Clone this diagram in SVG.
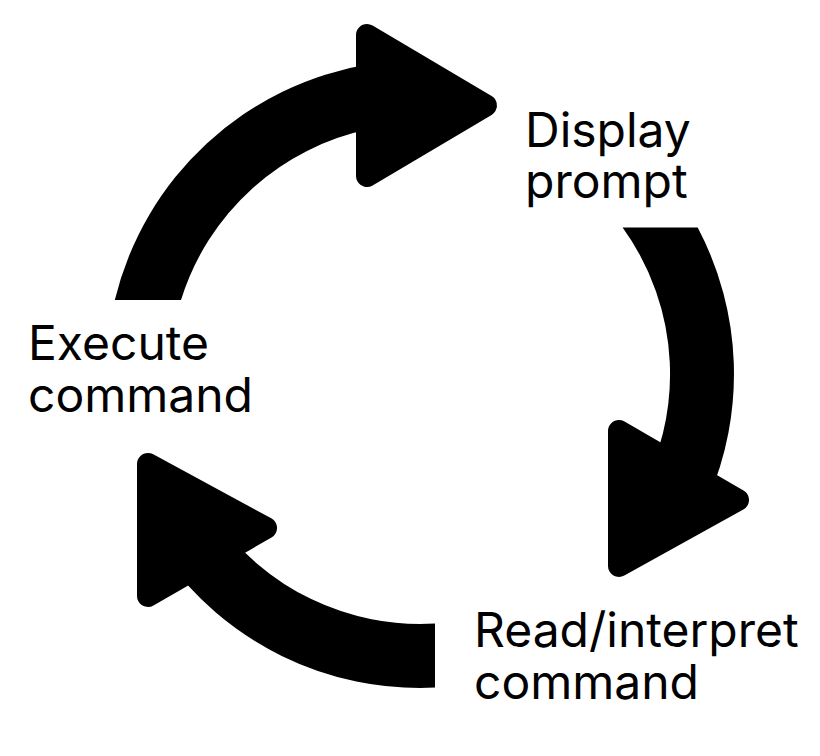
<svg xmlns="http://www.w3.org/2000/svg" width="820" height="756" viewBox="0 0 820 756">
<style>
.arc{fill:#000;}
.head{fill:#000;stroke:#000;stroke-width:22;stroke-linejoin:round;}
.lbl{font-family:Inter,"Liberation Sans",sans-serif;font-size:48px;fill:#000;}
</style>
<rect width="820" height="756" fill="#fff"/>
<g id="connectors">
<g id="arrow-execute-display">
<path class="arc" d="M 114.8 300 A 314 314 0 0 1 370 64 L 370 129.1 A 250 250 0 0 0 181 300 Z"/>
<polygon class="head" points="367,35 486,105.5 367,176"/>
</g>
<g id="arrow-display-read">
<path class="arc" d="M 697.7 227.5 A 314 314 0 0 1 707.6 500 L 636 500 A 250 250 0 0 0 622.6 227.5 Z"/>
<polygon class="head" points="619,431 738,500 619,566"/>
</g>
<g id="arrow-read-execute">
<path class="arc" d="M 435 687.6 A 314 314 0 0 1 162.8 554.1 L 215.2 517.4 A 250 250 0 0 0 435 623.5 Z"/>
<polygon class="head" points="148,464 266,528 148,596"/>
</g>
</g>
<g id="node-display">
<text class="lbl" x="525" y="147">Display</text>
<text class="lbl" x="525" y="198">prompt</text>
</g>
<g id="node-read">
<text class="lbl" x="474" y="647">Read/interpret</text>
<text class="lbl" x="474" y="699">command</text>
</g>
<g id="node-execute">
<text class="lbl" x="28" y="360">Execute</text>
<text class="lbl" x="28" y="412">command</text>
</g>
</svg>
